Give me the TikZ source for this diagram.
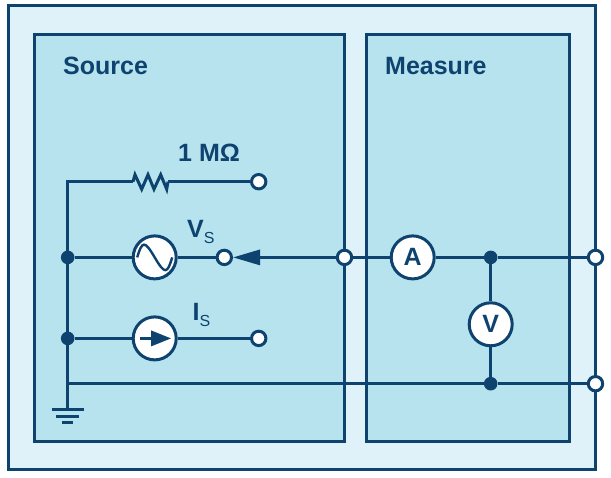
\documentclass[tikz,border=0pt]{standalone}
\usepackage{xcolor}
\usepackage{tikz}
\usetikzlibrary{arrows.meta}
\usepackage{fontspec}
\setmainfont{Liberation Sans}
\definecolor{wireblue}{HTML}{0E436F}
\definecolor{outerblue}{HTML}{E0F2F9}
\definecolor{innerblue}{HTML}{B7E3EF}
\tikzset{
  wire/.style={draw=wireblue,line width=3pt},
  frame/.style={draw=wireblue,line width=3pt,line join=miter},
  terminal/.style={circle,draw=wireblue,fill=white,line width=3pt,minimum size=14.4pt,inner sep=0pt},
  junction/.style={circle,fill=wireblue,minimum size=13.6pt,inner sep=0pt,outer sep=0pt},
  meter/.style={circle,draw=wireblue,fill=white,line width=3pt,minimum size=43pt,inner sep=0pt,
    text=wireblue,font=\fontsize{25}{25}\selectfont\bfseries},
  label/.style={anchor=base west,inner sep=0pt,text=wireblue,font=\fontsize{25}{25}\selectfont\bfseries}
}
\begin{document}
\begin{tikzpicture}[x=1pt,y=-1pt]
\useasboundingbox (0,0) rectangle (611,478);
\filldraw[frame,fill=outerblue] (8,5.5) rectangle (595.5,469.5);
\filldraw[frame,fill=innerblue] (34,34.5) rectangle (344.5,441.5);
\filldraw[frame,fill=innerblue] (366.5,34.5) rectangle (569.5,441.5);

\node[label] (sourcelabel) at (63,75) {Source};
\node[label] (measurelabel) at (385,75) {Measure};
\node[label] (rlabel) at (178,162) {1 MΩ};
\node[label] (vslabel) at (187,237.5) {V\raisebox{-6.5pt}{\fontsize{16}{16}\selectfont\mdseries S}};
\node[label] (islabel) at (192.5,321) {I\raisebox{-5.5pt}{\fontsize{16}{16}\selectfont\mdseries S}};

\node[terminal] (rend) at (258.7,181.7) {};
\node[terminal] (vsend) at (224.3,257.4) {};
\node[terminal] (isend) at (258.7,338.4) {};
\node[terminal] (midend) at (344.5,257.4) {};
\node[terminal] (hiout) at (595.5,257.4) {};
\node[terminal] (loout) at (595.5,383.7) {};

\node[junction] (vsdot) at (67.7,257.4) {};
\node[junction] (isdot) at (67.7,338.4) {};
\node[junction] (hidot) at (490.7,257.4) {};
\node[junction] (lodot) at (490.7,383.7) {};

\node[meter] (vssrc) at (154.7,257.4) {};
\node[meter] (issrc) at (154.7,338.4) {};
\node[meter] (ammeter) at (412.7,257.4) {A};
\node[meter] (voltmeter) at (490.7,324.3) {V};

\coordinate (corner) at (67.7,181.7);
\coordinate (rleft) at (133,181.7);
\coordinate (rright) at (168,181.7);
\coordinate (lowbus) at (67.7,383.7);
\coordinate (gndtop) at (67.7,410);

\draw[wire] (rend) -- (rright);
\draw[wire,line join=miter] (rleft) -- ++(2,-7) -- ++(6.7,14.5) -- ++(6.3,-14.5) -- ++(6,14.5) -- ++(6.7,-14.5) -- ++(6,14.5) -- (rright);
\draw[wire,line join=miter] (rleft) -- (corner) -- (vsdot);
\draw[wire] (vsdot) -- (isdot);
\draw[wire] (isdot) -- (gndtop);
\draw[wire] (vsdot) -- (vssrc);
\draw[wire] (vssrc) -- (vsend);
\draw[wire] (isdot) -- (issrc);
\draw[wire] (issrc) -- (isend);
\draw[wire,-{Triangle[length=27pt,width=15pt]}] (midend) -- (vsend);
\draw[wire] (midend) -- (ammeter);
\draw[wire] (ammeter) -- (hidot);
\draw[wire] (hidot) -- (hiout);
\draw[wire] (hidot) -- (voltmeter);
\draw[wire] (voltmeter) -- (lodot);
\draw[wire] (lowbus) -- (lodot);
\draw[wire] (lodot) -- (loout);

\draw[wire] ([xshift=-16pt]gndtop) -- ([xshift=16pt]gndtop);
\draw[wire] ([xshift=-11.5pt,yshift=-6.7pt]gndtop) -- ([xshift=11.5pt,yshift=-6.7pt]gndtop);
\draw[wire] ([xshift=-5.5pt,yshift=-13pt]gndtop) -- ([xshift=5.5pt,yshift=-13pt]gndtop);

\draw[wireblue,line width=2.4pt] ([xshift=-17.5pt]vssrc.center) .. controls +(5,-17) and +(-10,-17) .. (vssrc.center) .. controls +(10,17) and +(-5,17) .. ([xshift=17.5pt]vssrc.center);
\draw[wire,-{Triangle[length=20pt,width=15pt]}] ([xshift=-15pt]issrc.center) -- ([xshift=16.5pt]issrc.center);
\end{tikzpicture}
\end{document}
